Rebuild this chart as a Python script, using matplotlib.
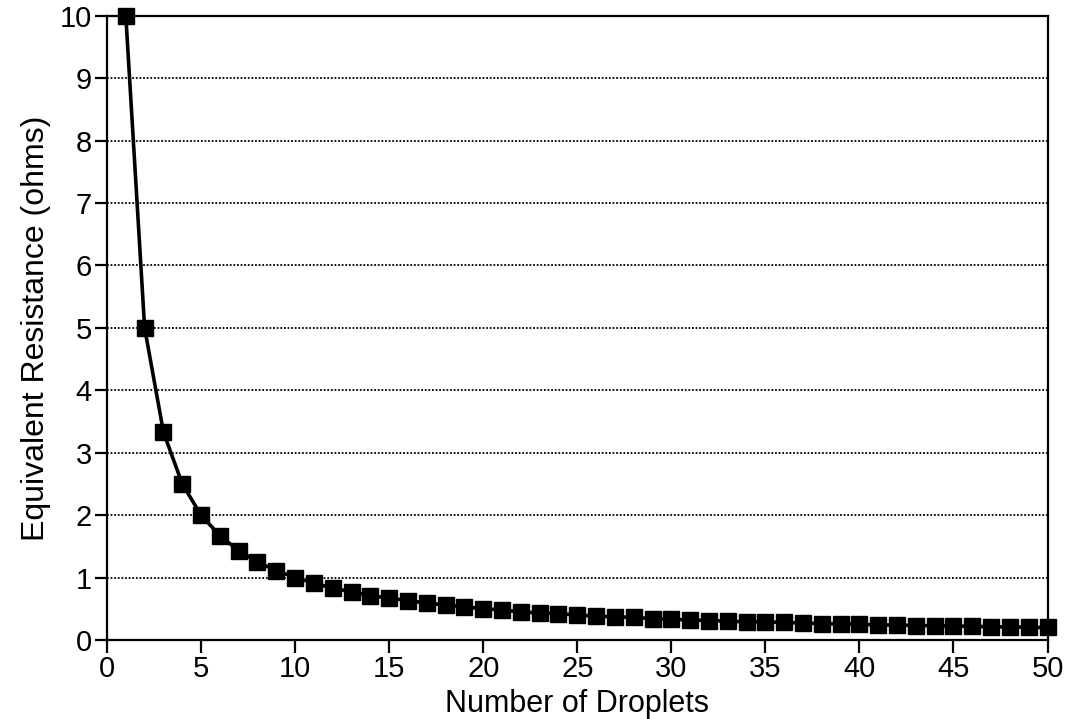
import matplotlib
matplotlib.use("Agg")
import matplotlib.pyplot as plt

droplets = list(range(1, 51))
resistance = [
    10.0, 5.0, 3.33, 2.5, 2.0, 1.67, 1.43, 1.25, 1.11, 1.0,
    0.91, 0.83, 0.77, 0.71, 0.67, 0.63, 0.59, 0.56, 0.53, 0.5,
    0.48, 0.45, 0.43, 0.42, 0.4, 0.38, 0.37, 0.36, 0.34, 0.33,
    0.32, 0.31, 0.3, 0.29, 0.29, 0.28, 0.27, 0.26, 0.26, 0.25,
    0.24, 0.24, 0.23, 0.23, 0.22, 0.22, 0.21, 0.21, 0.2, 0.2,
]
x_ticks = list(range(0, 51, 5))
y_ticks = list(range(0, 11))

plt.rcParams["font.family"] = ["Liberation Sans", "DejaVu Sans"]

fig = plt.figure(figsize=(10.7, 7.19), dpi=100)
ax = fig.add_axes([0.1, 0.11, 0.879, 0.868])

ax.plot(droplets, resistance, color="black", linewidth=2.6,
        marker="s", markersize=11, markerfacecolor="black",
        markeredgecolor="black", clip_on=False, zorder=3)

ax.set_xlim(0, 50)
ax.set_ylim(0, 10)
ax.set_xticks(x_ticks)
ax.set_yticks(y_ticks)
ax.yaxis.grid(True, linestyle=(0, (1, 1)), color="black", linewidth=1.3)
ax.set_axisbelow(True)

for spine in ax.spines.values():
    spine.set_linewidth(1.6)
    spine.set_color("black")

ax.tick_params(axis="both", direction="out", length=9, width=1.6,
               labelsize=21, pad=2, colors="black")
ax.set_xlabel("Number of Droplets", fontsize=22, labelpad=4)
ax.set_ylabel("Equivalent Resistance (ohms)", fontsize=23, labelpad=6)

fig.savefig("out.png", dpi=100)
